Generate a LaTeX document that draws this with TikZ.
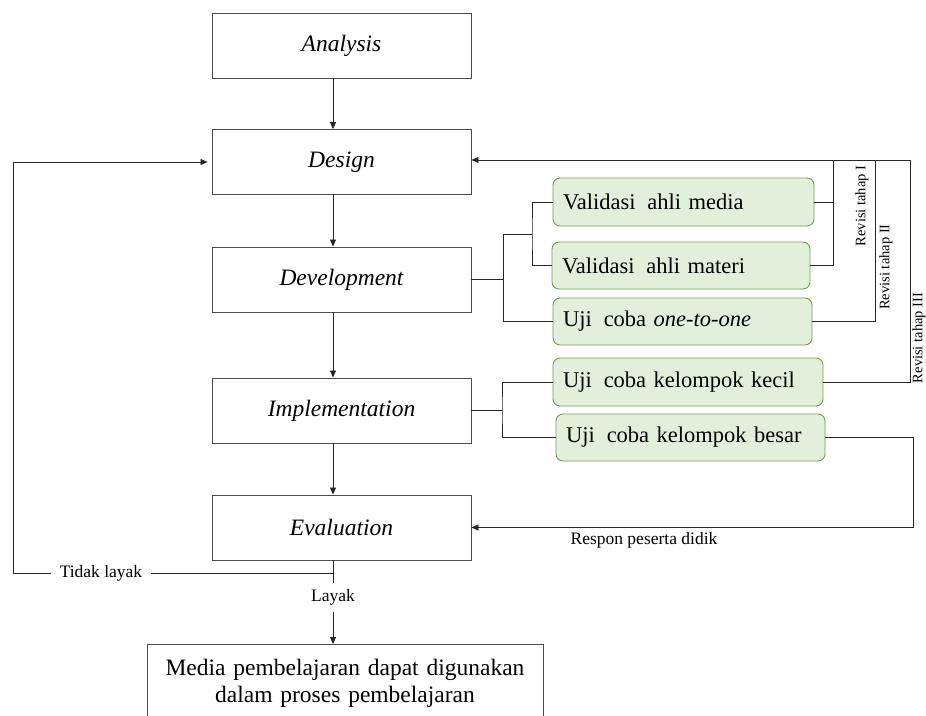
\documentclass[tikz,border=0pt]{standalone}
\usepackage{fontspec}
\setmainfont{Liberation Serif}
\usetikzlibrary{arrows.meta}
\definecolor{gfill}{RGB}{226,239,218}
\definecolor{gborder}{RGB}{122,154,92}
\begin{document}
\begin{tikzpicture}[x=1pt,y=-1pt,
  mainbox/.style={draw=black!70, line width=0.9pt, fill=white, minimum width=259pt, minimum height=65pt, inner sep=0pt, font=\fontsize{23.5}{28}\selectfont\itshape},
  gbox/.style={draw=gborder, fill=gfill, line width=0.9pt, rounded corners=7pt, minimum height=47pt, inner xsep=10pt, inner ysep=0pt, align=left, font=\fontsize{22.5}{27}\selectfont},
  finalbox/.style={draw=black!70, line width=0.9pt, fill=white, anchor=north, text width=376pt, align=center, minimum height=78pt, inner xsep=10pt, font=\fontsize{23.5}{27.5}\selectfont},
  conn/.style={line width=0.8pt, black!85},
  arr/.style={conn, -{Triangle[length=7pt,width=6pt]}},
  small/.style={font=\fontsize{17.5}{21}\selectfont, inner sep=2pt},
  rev/.style={font=\fontsize{14.5}{17}\selectfont, rotate=90, inner sep=1pt}
]
\useasboundingbox (0,0) rectangle (926,715);

% main column
\node[mainbox] (analysis) at (341.5,45.5) {Analysis};
\node[mainbox] (design) at (341.5,162) {Design};
\node[mainbox] (dev) at (341.5,279.5) {Development};
\node[mainbox] (impl) at (341.5,410.5) {Implementation};
\node[mainbox] (eval) at (341.5,527.5) {Evaluation};
\node[finalbox] (final) at (345,644) {Media pembelajaran dapat digunakan\\dalam proses pembelajaran};

% green boxes
\node[gbox, text width=241pt, minimum height=48pt] (vm) at (683.5,202) {Validasi\hspace{0.2em} ahli media};
\node[gbox, text width=238pt] (vt) at (681,265.5) {Validasi\hspace{0.2em} ahli materi};
\node[gbox, text width=239pt] (oo) at (682.5,321.5) {Uji\hspace{0.2em} coba \textit{one-to-one}};
\node[gbox, text width=250pt, minimum height=48pt] (kk) at (688,382) {Uji\hspace{0.2em} coba kelompok kecil};
\node[gbox, text width=249pt] (kb) at (690.5,437.5) {Uji\hspace{0.2em} coba kelompok besar};

% labels
\node[small] (layak) at (333,597.5) [inner ysep=6pt] {Layak};
\node[small, inner xsep=9pt] (tl) at (101,573) {Tidak layak};
\node[small] (respon) at (644,540) {Respon peserta didik};
\node[rev] (rev1) at (862,206) {Revisi tahap I};
\node[rev] (rev2) at (886,267) {Revisi tahap II};
\node[rev] (rev3) at (919,338) {Revisi tahap III};

% coordinates
\coordinate (ax) at (333,0);
\coordinate (jt) at (333,573);
\coordinate (lft) at (13,160);
\coordinate (j1) at (532,234);
\coordinate (j2) at (503,234);
\coordinate (j3) at (502,410.5);
\coordinate (r1) at (833,160);
\coordinate (r2) at (875,160);
\coordinate (r3) at (910,160);
\coordinate (r4) at (913,527.5);

% vertical flow
\draw[arr] (analysis.south -| ax) -- (design.north -| ax);
\draw[arr] (design.south -| ax) -- (dev.north -| ax);
\draw[arr] (dev.south -| ax) -- (impl.north -| ax);
\draw[arr] (impl.south -| ax) -- (eval.north -| ax);
\draw[conn] (eval.south -| ax) -- (layak.north);
\draw[arr] (layak.south) -- (final.north -| ax);

% tidak layak loop
\draw[conn] (tl.east) -- (jt);
\draw[arr, shorten >=4pt] (tl.west) -- (tl.west -| lft) |- (design.west);

% development brackets
\draw[conn] (vm.west) -| (j1) |- (vt.west);
\draw[conn] (j1) -- (j2) |- (oo.west);
\draw[conn] (dev.east) -- (dev.east -| j2);

% implementation brackets
\draw[conn] (kk.west) -| (j3) |- (kb.west);
\draw[conn] (impl.east) -- (j3);

% revision loops
\draw[conn] (vm.east) -- (vm.east -| r1);
\draw[conn] (vt.east) -| (r1);
\draw[conn] (oo.east) -| (r2);
\draw[conn] (kk.east) -| (r3);
\draw[arr] (r3) -- (r3 -| design.east);

% response loop
\draw[arr] (kb.east) -| (r4) -- (eval.east);
\end{tikzpicture}
\end{document}
